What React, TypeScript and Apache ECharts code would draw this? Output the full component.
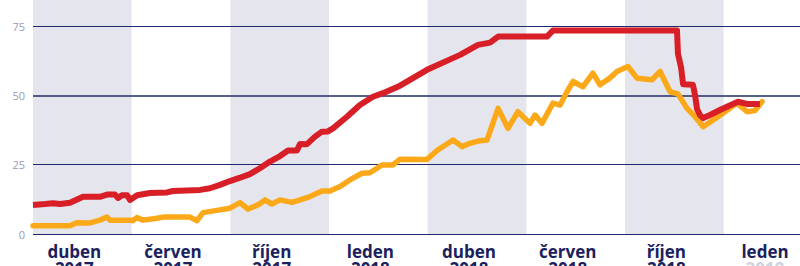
import React, { useEffect, useRef } from "react";
import * as echarts from "echarts";

// x = months since start of the chart, y = value
const redData: [number, number][] = [
  [0, 10.5], [0.73, 10.8], [1.22, 11.1], [1.64, 10.8], [2.25, 11.3], [3.04, 13.4],
  [4.07, 13.4], [4.5, 14.2], [4.99, 14.2], [5.17, 13.0], [5.41, 14.0], [5.72, 14.0],
  [5.9, 12.3], [6.33, 14.0], [7.11, 14.8], [8.15, 15.0], [8.51, 15.5], [9.36, 15.7],
  [10.16, 15.9], [10.76, 16.5], [11.37, 17.7], [11.98, 19.1], [12.59, 20.3], [13.19, 21.6],
  [13.8, 23.7], [14.41, 26.1], [15.02, 28.1], [15.51, 30.1], [16.05, 30.1], [16.24, 32.5],
  [16.66, 32.4], [17.15, 35.1], [17.57, 36.9], [17.94, 37.0], [18.24, 38.1], [19.09, 42.3],
  [19.88, 46.5], [20.67, 49.5], [21.28, 50.8], [22.32, 53.5], [23.96, 59.2], [25.97, 64.6],
  [27.06, 68.2], [27.79, 69.0], [28.28, 71.2], [31.26, 71.2], [31.62, 73.4], [39.16, 73.4],
  [39.22, 65.0], [39.41, 60.0], [39.53, 54.0], [40.13, 53.8], [40.26, 50.0], [40.38, 45.0],
  [40.56, 42.9], [40.75, 41.8], [41.17, 42.9], [41.77, 44.7], [42.2, 45.9], [42.87, 47.7],
  [43.41, 46.9], [44.2, 46.9],
];

const yellowData: [number, number][] = [
  [0, 3.0], [2.25, 3.0], [2.68, 4.1], [3.47, 4.0], [4.07, 5.0], [4.5, 6.1], [4.68, 5.0],
  [5.9, 5.0], [6.08, 4.8], [6.32, 5.9], [6.69, 5.0], [7.54, 5.7], [7.91, 6.1], [9.55, 6.1],
  [9.97, 4.8], [10.34, 7.7], [11.37, 8.7], [11.98, 9.3], [12.59, 11.3], [13.07, 9.0],
  [13.68, 10.5], [14.11, 12.3], [14.53, 10.8], [15.02, 12.3], [15.75, 11.4], [16.24, 12.3],
  [16.84, 13.5], [17.57, 15.5], [18.06, 15.5], [18.67, 17.1], [19.27, 19.5], [20.01, 21.9],
  [20.49, 22.1], [21.22, 24.9], [21.89, 24.9], [22.32, 27.0], [23.96, 26.9], [24.57, 30.1],
  [25.54, 33.9], [26.09, 31.5], [26.57, 32.7], [27.06, 33.5], [27.61, 33.9], [28.28, 45.3],
  [28.88, 38.1], [29.49, 44.1], [30.22, 39.9], [30.53, 42.9], [30.95, 39.9], [31.62, 47.2],
  [32.05, 46.5], [32.47, 51.3], [32.84, 55.0], [33.44, 53.1], [34.05, 58.0], [34.48, 53.8],
  [35.09, 56.3], [35.51, 58.6], [36.18, 60.4], [36.73, 56.2], [37.64, 55.6], [38.13, 58.6],
  [38.74, 51.3], [39.22, 50.5], [39.77, 45.3], [40.26, 42.3], [40.75, 38.7], [41.36, 41.1],
  [42.08, 44.1], [42.81, 47.2], [43.42, 44.1], [43.9, 44.5], [44.33, 47.7],
];

const labelMonths = ["duben", "červen", "říjen", "leden", "duben", "červen", "říjen", "leden"];
const labelYears = ["2017", "2017", "2017", "2018", "2018", "2018", "2018", "2019"];
const shadedBands: [number, number][] = [[0, 6], [12, 18], [24, 30], [36, 42]];
const yTicks = [0, 25, 50, 75];

export default function App() {
  const ref = useRef<HTMLDivElement>(null);
  useEffect(() => {
    if (!ref.current) return;
    const chart = echarts.init(ref.current, undefined, { renderer: "svg" });
    const navy = "#1f2a6c";
    const labelFont = { fontFamily: "Open Sans", fontWeight: 700, fontSize: 17, lineHeight: 17 };
    chart.setOption({
      animation: false,
      backgroundColor: "#ffffff",
      grid: { left: 33, right: 0, top: -43.3, bottom: 32, containLabel: false, outerBoundsMode: "none" },
      xAxis: [
        {
          type: "value",
          min: 0,
          max: 46.64,
          interval: 3,
          axisLine: { show: false },
          axisTick: { show: false },
          splitLine: { show: false },
          axisLabel: {
            interval: 0,
            margin: 9,
            hideOverlap: false,
            padding: [0, 16, 0, 0],
            formatter: (v: number) => {
              const i = (v - 3) / 6;
              if (Math.abs(i - Math.round(i)) > 1e-6) return "";
              const k = Math.round(i);
              if (k < 0 || k >= labelMonths.length) return "";
              const yStyle = k === labelMonths.length - 1 ? "c" : "b";
              return `{a|${labelMonths[k]}}\n{${yStyle}|${labelYears[k]}}`;
            },
            rich: {
              a: { ...labelFont, color: "#1b215e" },
              b: { ...labelFont, color: "#1b215e" },
              c: { ...labelFont, color: "#d0d2dc" },
            },
          },
        },
      ],
      yAxis: [
        {
          type: "value",
          min: 0,
          max: 100,
          interval: 25,
          axisLine: { show: false },
          axisTick: { show: false },
          axisLabel: {
            margin: 8,
            fontFamily: "Open Sans",
            fontSize: 11,
            color: "#9a9cb4",
            formatter: (v: number) => (yTicks.indexOf(v) >= 0 ? String(v) : ""),
          },
          splitLine: { show: true, lineStyle: { color: navy, width: 1.2 } },
        },
        {
          type: "value",
          min: 0,
          max: 100,
          interval: 50,
          position: "left",
          axisLine: { show: false },
          axisTick: { show: false },
          axisLabel: { show: false },
          splitLine: { show: true, lineStyle: { color: ["transparent", "#5a5f8a", "transparent"], width: 2 } },
        },
      ],
      series: [
        {
          type: "line",
          data: [],
          z: 1,
          silent: true,
          markArea: {
            silent: true,
            itemStyle: { color: "rgba(40,50,110,0.12)" },
            data: shadedBands.map(([a, b]) => [{ xAxis: a }, { xAxis: b }]),
          },
        },
        {
          name: "yellow",
          type: "line",
          data: yellowData,
          z: 3,
          showSymbol: false,
          symbol: "none",
          lineStyle: { color: "#fba919", width: 5.5, cap: "round", join: "round" },
        },
        {
          name: "red",
          type: "line",
          data: redData,
          z: 4,
          showSymbol: false,
          symbol: "none",
          lineStyle: { color: "#d81e27", width: 6, cap: "butt", join: "round" },
        },
      ],
    });
    return () => chart.dispose();
  }, []);
  return (
    <div
      ref={ref}
      style={{ position: "fixed", left: 0, top: 0, width: 800, height: 266, background: "#fff" }}
    />
  );
}
